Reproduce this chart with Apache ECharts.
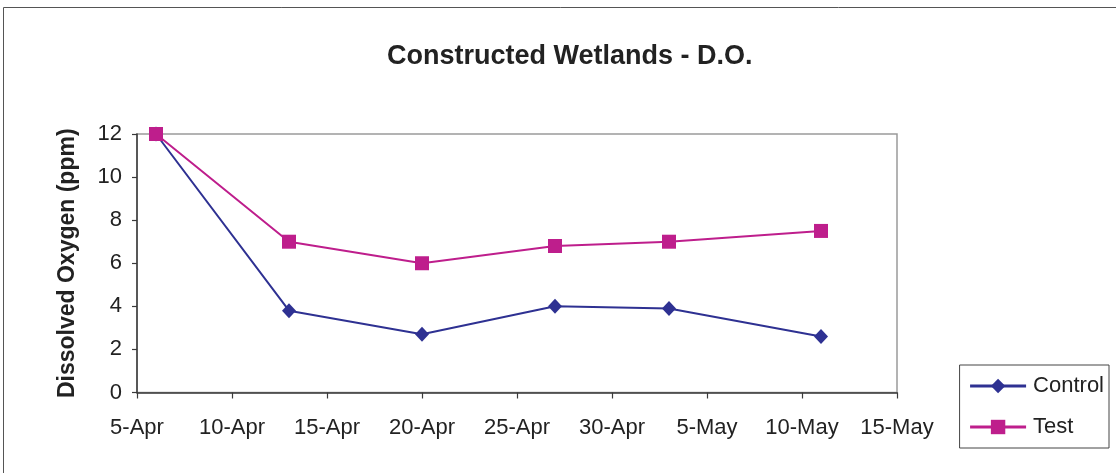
<!DOCTYPE html>
<html>
<head>
<meta charset="utf-8">
<script src="https://cdn.jsdelivr.net/npm/echarts@6/dist/echarts.min.js"></script>
<style>
  html, body { margin: 0; padding: 0; background: #fff; }
  #chart { width: 1116px; height: 473px; }
</style>
</head>
<body>
<div id="chart"></div>
<script>
// Sampling dates (days) and dissolved oxygen readings
const sampleDates = ['2004-04-06', '2004-04-13', '2004-04-20', '2004-04-27', '2004-05-03', '2004-05-11'];
const controlDO = [12, 3.8, 2.7, 4.0, 3.9, 2.6];
const testDO = [12, 7.0, 6.0, 6.8, 7.0, 7.5];
// X-axis tick labels, one every 5 days starting 5-Apr
const xTickLabels = ['5-Apr', '10-Apr', '15-Apr', '20-Apr', '25-Apr', '30-Apr', '5-May', '10-May', '15-May'];
const axisStart = '2004-04-05';

const DAY = 86400000;
const dayOffset = d => Math.round((Date.parse(d) - Date.parse(axisStart)) / DAY);

const fontFamily = 'Liberation Sans, Arial, sans-serif';
const navy = '#2E3192';
const magenta = '#BE1E8C';
const ink = '#222';

const chart = echarts.init(document.getElementById('chart'), null, { renderer: 'canvas' });
chart.setOption({
  backgroundColor: '#fff',
  animation: false,
  graphic: [{
    type: 'rect',
    shape: { x: 3.5, y: 7.5, width: 1130, height: 480 },
    style: { fill: 'none', stroke: '#555', lineWidth: 1 },
    z: -1
  }],
  title: {
    text: 'Constructed Wetlands - D.O.',
    left: 382,
    top: 38,
    textStyle: { fontFamily, fontSize: 27, fontWeight: 'bold', color: ink }
  },
  legend: {
    right: 7,
    top: 365,
    orient: 'vertical',
    itemWidth: 56,
    itemHeight: 18,
    itemGap: 19,
    padding: [10, 5, 10, 9],
    borderColor: '#444',
    borderWidth: 1,
    lineStyle: { width: 3 },
    textStyle: { fontFamily, fontSize: 22, color: ink, padding: [0, 0, 0, 2] },
    data: ['Control', 'Test']
  },
  grid: {
    left: 137, top: 134, width: 760, height: 258.5,
    show: true, borderColor: '#9a9a9a', borderWidth: 1.5, backgroundColor: 'transparent'
  },
  xAxis: {
    type: 'value',
    min: 0, max: 40, interval: 5,
    splitLine: { show: false },
    axisLine: { lineStyle: { color: '#3a3a3a', width: 1.5 } },
    axisTick: { show: true, inside: false, length: 6, lineStyle: { color: '#3a3a3a', width: 1.2 } },
    axisLabel: {
      margin: 24, fontFamily, fontSize: 22, color: ink,
      formatter: v => xTickLabels[Math.round(v / 5)] || ''
    }
  },
  yAxis: {
    type: 'value',
    min: 0, max: 12, interval: 2,
    name: 'Dissolved Oxygen (ppm)',
    nameLocation: 'middle',
    nameGap: 58,
    nameTextStyle: { fontFamily, fontSize: 23, fontWeight: 'bold', color: ink },
    splitLine: { show: false },
    axisLine: { show: true, lineStyle: { color: '#3a3a3a', width: 1.5 } },
    axisTick: { show: true, inside: false, length: 5, lineStyle: { color: '#3a3a3a', width: 1.2 } },
    axisLabel: { margin: 15, fontFamily, fontSize: 22, color: ink }
  },
  series: [
    {
      name: 'Control',
      type: 'line',
      data: sampleDates.map((d, i) => [dayOffset(d), controlDO[i]]),
      symbol: 'diamond',
      symbolSize: [14, 15],
      itemStyle: { color: navy },
      lineStyle: { color: navy, width: 2 }
    },
    {
      name: 'Test',
      type: 'line',
      data: sampleDates.map((d, i) => [dayOffset(d), testDO[i]]),
      symbol: 'rect',
      symbolSize: 14,
      itemStyle: { color: magenta },
      lineStyle: { color: magenta, width: 2 }
    }
  ]
});
</script>
</body>
</html>
